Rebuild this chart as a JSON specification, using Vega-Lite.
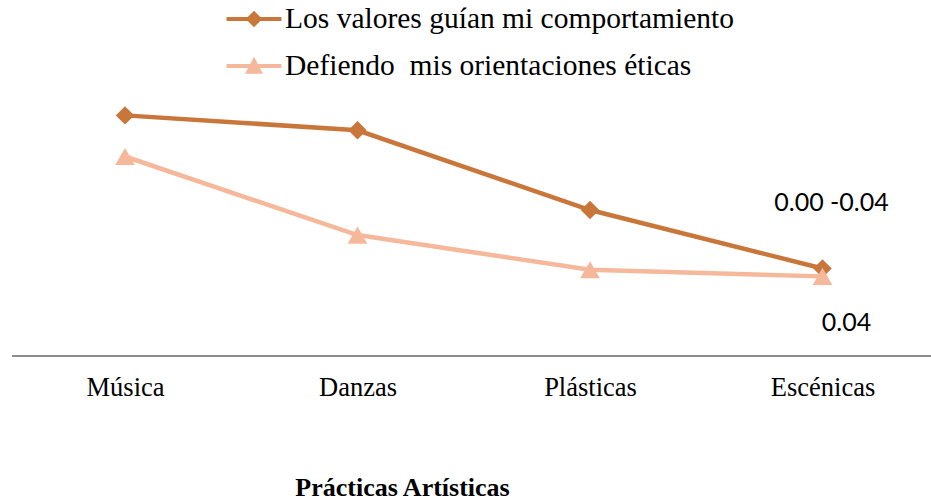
{
  "$schema": "https://vega.github.io/schema/vega-lite/v6.json",
  "width": 919,
  "height": 350,
  "autosize": {"type": "none"},
  "padding": {"left": 12, "top": 6, "right": 0, "bottom": 146},
  "background": "white",
  "config": {"view": {"stroke": null}},
  "datasets": {
    "series": [
      {"practica": "Música", "serie": "Los valores guían mi comportamiento", "valor": 0.875},
      {"practica": "Danzas", "serie": "Los valores guían mi comportamiento", "valor": 0.79},
      {"practica": "Plásticas", "serie": "Los valores guían mi comportamiento", "valor": 0.334},
      {"practica": "Escénicas", "serie": "Los valores guían mi comportamiento", "valor": 0.0},
      {"practica": "Música", "serie": "Defiendo \u00a0mis orientaciones éticas", "valor": 0.64},
      {"practica": "Danzas", "serie": "Defiendo \u00a0mis orientaciones éticas", "valor": 0.191},
      {"practica": "Plásticas", "serie": "Defiendo \u00a0mis orientaciones éticas", "valor": -0.007},
      {"practica": "Escénicas", "serie": "Defiendo \u00a0mis orientaciones éticas", "valor": -0.045}
    ],
    "etiquetas": [
      {"practica": "Escénicas", "valor": 0.374, "etiqueta": "0.00 -0.04"},
      {"practica": "Escénicas", "valor": -0.314, "etiqueta": "0.04"}
    ]
  },
  "layer": [
    {
      "data": {"name": "series"},
      "mark": {"type": "line", "strokeWidth": 4.5},
      "encoding": {
        "x": {
          "field": "practica",
          "type": "nominal",
          "sort": ["Música", "Danzas", "Plásticas", "Escénicas"],
          "scale": {"type": "point", "padding": 0, "range": [113, 810.5]},
          "axis": {
            "domain": false,
            "ticks": false,
            "grid": false,
            "labelAngle": 0,
            "labelFont": "Liberation Serif",
            "labelFontSize": 26.5,
            "labelColor": "black",
            "labelPadding": 18,
            "title": "Prácticas Artísticas",
            "titleFont": "Liberation Serif",
            "titleFontSize": 26,
            "titleFontWeight": "bold",
            "titleColor": "black",
            "titleX": 390,
            "titleY": 139,
            "titleAlign": "center",
            "titleBaseline": "alphabetic"
          }
        },
        "y": {
          "field": "valor",
          "type": "quantitative",
          "scale": {"domain": [-0.5, 1.5], "zero": false, "nice": false},
          "axis": null
        },
        "color": {
          "field": "serie",
          "type": "nominal",
          "scale": {
            "domain": ["Los valores guían mi comportamiento", "Defiendo \u00a0mis orientaciones éticas"],
            "range": ["#C9763A", "#F5B89B"]
          },
          "legend": {
            "orient": "none",
            "legendX": 227,
            "legendY": -2,
            "direction": "vertical",
            "title": null,
            "padding": 0,
            "labelFont": "Liberation Serif",
            "labelFontSize": 29.5,
            "labelColor": "black",
            "labelOffset": 16,
            "labelLimit": 0,
            "symbolSize": 900,
            "rowPadding": 17,
            "symbolType": "M-1.83,-0.14L1.83,-0.14L1.83,0.14L-1.83,0.14Z",
            "encode": {
              "symbols": {
                "update": {
                  "fill": {"scale": "color", "field": "value"},
                  "stroke": {"value": "transparent"},
                  "strokeWidth": {"value": 0},
                  "opacity": {"value": 1},
                  "size": {"value": 900},
                  "shape": {"signal": "datum.value == 'Los valores guían mi comportamiento' ? 'M-1.83,-0.14L1.83,-0.14L1.83,0.14L-1.83,0.14Z M-0.55,0L0,-0.55L0.55,0L0,0.55Z' : 'M-1.83,-0.14L1.83,-0.14L1.83,0.14L-1.83,0.14Z M0,-0.62L0.6,0.52L-0.6,0.52Z'"}
                }
              }
            }
          }
        },
        "order": {"field": "serie", "sort": "descending"}
      }
    },
    {
      "data": {"name": "series"},
      "transform": [{"filter": "datum.serie == 'Los valores guían mi comportamiento'"}],
      "mark": {"type": "point", "filled": true, "opacity": 1, "strokeWidth": 0, "shape": "diamond", "size": 340},
      "encoding": {
        "x": {"field": "practica", "type": "nominal", "sort": ["Música", "Danzas", "Plásticas", "Escénicas"]},
        "y": {"field": "valor", "type": "quantitative"},
        "color": {"field": "serie", "type": "nominal"}
      }
    },
    {
      "data": {"name": "series"},
      "transform": [{"filter": "datum.serie != 'Los valores guían mi comportamiento'"}],
      "mark": {"type": "point", "filled": true, "opacity": 1, "strokeWidth": 0, "shape": "triangle-up", "size": 390},
      "encoding": {
        "x": {"field": "practica", "type": "nominal", "sort": ["Música", "Danzas", "Plásticas", "Escénicas"]},
        "y": {"field": "valor", "type": "quantitative"},
        "color": {"field": "serie", "type": "nominal"}
      }
    },
    {
      "data": {"name": "series"},
      "transform": [{"filter": "datum.practica == 'Música' && datum.valor > 0.8"}],
      "mark": {"type": "rule", "color": "#8C8C8C", "strokeWidth": 2},
      "encoding": {"y": {"datum": -0.5, "type": "quantitative"}}
    },
    {
      "data": {"name": "etiquetas"},
      "transform": [{"filter": "datum.etiqueta == '0.00 -0.04'"}],
      "mark": {"type": "text", "font": "Lato", "fontSize": 25, "color": "black", "align": "center", "baseline": "middle", "dx": 9},
      "encoding": {
        "x": {"field": "practica", "type": "nominal", "sort": ["Música", "Danzas", "Plásticas", "Escénicas"]},
        "y": {"field": "valor", "type": "quantitative"},
        "text": {"field": "etiqueta"}
      }
    },
    {
      "data": {"name": "etiquetas"},
      "transform": [{"filter": "datum.etiqueta == '0.04'"}],
      "mark": {"type": "text", "font": "Lato", "fontSize": 25, "color": "black", "align": "center", "baseline": "middle", "dx": 24},
      "encoding": {
        "x": {"field": "practica", "type": "nominal", "sort": ["Música", "Danzas", "Plásticas", "Escénicas"]},
        "y": {"field": "valor", "type": "quantitative"},
        "text": {"field": "etiqueta"}
      }
    }
  ]
}
